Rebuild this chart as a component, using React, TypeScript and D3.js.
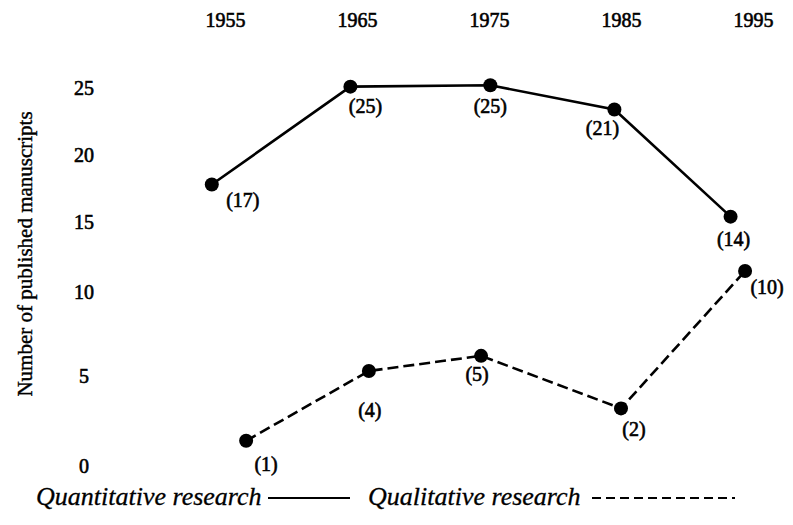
import React, { useEffect, useRef } from 'react'
import * as d3 from 'd3'

const years = [1955, 1965, 1975, 1985, 1995]
const yTicks = [0, 5, 10, 15, 20, 25]

// points are hand placed in the figure, so positions are read against the axes
// and the printed counts are kept apart
const quantYears = [1954.0, 1964.5, 1975.1, 1984.5, 1993.3]
const quantValues = [17.8, 25.1, 25.2, 23.4, 15.4]
const quantCounts = [17, 25, 25, 21, 14]

const qualYears = [1956.6, 1965.9, 1974.4, 1985.0, 1994.4]
const qualValues = [1.4, 5.3, 6.2, 3.2, 11.5]
const qualCounts = [1, 4, 5, 2, 10]

// where each count label sits relative to its dot (centre x, baseline y)
const quantLabelOffsets = [[31, 23], [15, 26], [0, 28], [-12, 26], [3, 29]]
const qualLabelOffsets = [[20, 30], [1, 46], [-4, 25], [13, 28], [22, 23]]

const W = 793
const H = 525
const font = 'Liberation Serif, DejaVu Serif, serif'

export default function App() {
  const ref = useRef<SVGSVGElement>(null)

  useEffect(() => {
    document.body.style.margin = '0'
    const svg = d3.select(ref.current)
    svg.selectAll('*').remove()

    const x = d3.scaleLinear().domain([1955, 1995]).range([225, 753])
    const y = d3.scaleLinear().domain(yTicks).range([466, 376, 292, 222, 155, 88])

    // scanned print looks heavy, so thicken glyphs a little
    const ink = (sel: any, w = 0.6) => sel
      .style('font-family', font)
      .attr('fill', '#000')
      .attr('stroke', '#000')
      .attr('stroke-width', w)

    // year labels along the top
    svg.append('g')
      .attr('transform', 'translate(0,30)')
      .call(d3.axisTop(x).tickValues(years).tickFormat(d3.format('d')).tickSize(0).tickPadding(3))
      .call(g => g.select('.domain').remove())
      .selectAll('text')
        .attr('font-size', 20)
        .call(ink)

    // value labels down the left
    svg.append('g')
      .attr('transform', 'translate(84,0)')
      .call(d3.axisLeft(y).tickValues(yTicks).tickSize(0))
      .call(g => g.select('.domain').remove())
      .selectAll('text')
        .attr('x', 0)
        .attr('text-anchor', 'middle')
        .attr('font-size', 20)
        .call(ink)

    svg.append('text')
      .attr('transform', 'translate(32,254) rotate(-90)')
      .attr('text-anchor', 'middle')
      .attr('font-size', 21)
      .call(ink, 0.4)
      .text('Number of published manuscripts')

    const line = d3.line<[number, number]>()
      .x(d => x(d[0]))
      .y(d => y(d[1]))

    const series = [
      { years: quantYears, values: quantValues, counts: quantCounts, offsets: quantLabelOffsets, dash: null },
      { years: qualYears, values: qualValues, counts: qualCounts, offsets: qualLabelOffsets, dash: '11,5' }
    ]

    series.forEach(s => {
      const pts = s.years.map((yr, i) => [yr, s.values[i]] as [number, number])
      const g = svg.append('g')

      g.append('path')
        .datum(pts)
        .attr('d', line)
        .attr('fill', 'none')
        .attr('stroke', '#000')
        .attr('stroke-width', 2.6)
        .attr('stroke-dasharray', s.dash)

      g.selectAll('circle')
        .data(pts)
        .enter()
        .append('circle')
          .attr('cx', d => x(d[0]))
          .attr('cy', d => y(d[1]))
          .attr('r', 7)
          .attr('fill', '#000')

      g.selectAll('text')
        .data(pts)
        .enter()
        .append('text')
          .attr('x', (d, i) => x(d[0]) + s.offsets[i][0])
          .attr('y', (d, i) => y(d[1]) + s.offsets[i][1])
          .attr('text-anchor', 'middle')
          .attr('font-size', 20)
          .call(ink)
          .text((d, i) => '(' + s.counts[i] + ')')
    })

    // legend
    const legend = svg.append('g')
      .style('font-family', font)
      .attr('font-style', 'italic')
      .attr('font-size', 26)
      .attr('stroke', '#000')
      .attr('stroke-width', 0.3)

    legend.append('text').attr('x', 36).attr('y', 505).text('Quantitative research')
    legend.append('line')
      .attr('x1', 268).attr('x2', 350).attr('y1', 498).attr('y2', 498)
      .attr('stroke', '#000').attr('stroke-width', 2)
    legend.append('text').attr('x', 368).attr('y', 505).text('Qualitative research')
    legend.append('line')
      .attr('x1', 592).attr('x2', 735).attr('y1', 498).attr('y2', 498)
      .attr('stroke', '#000').attr('stroke-width', 2)
      .attr('stroke-dasharray', '9,5')
  }, [])

  return <svg ref={ref} width={W} height={H} style={{ display: 'block', background: '#fff' }} />
}
